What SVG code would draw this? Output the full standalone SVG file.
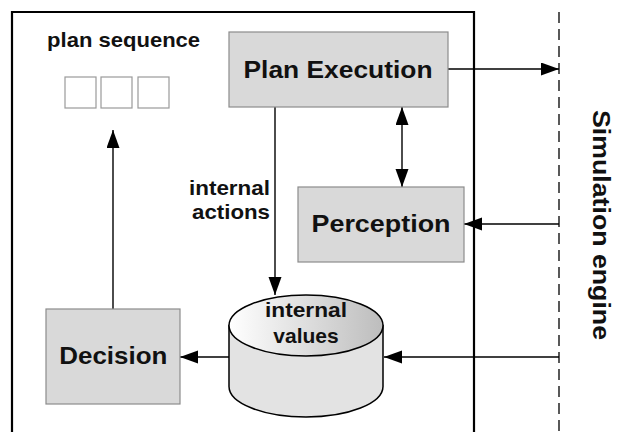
<svg xmlns="http://www.w3.org/2000/svg" width="618" height="432" viewBox="0 0 618 432">
<style>
.box{fill:#d9d9d9;stroke:#8c8c8c;stroke-width:1.2}
.sq{fill:#ffffff;stroke:#9a9a9a;stroke-width:1.2}
.big{font-family:"Liberation Sans",Arial,sans-serif;font-weight:bold;font-size:24px;fill:#111}
.small{font-family:"Liberation Sans",Arial,sans-serif;font-weight:bold;font-size:21px;fill:#111}
.conn{fill:none;stroke:#000;stroke-width:1.4}
</style>
<defs>
<marker id="ah" markerUnits="userSpaceOnUse" markerWidth="19" markerHeight="14" refX="18" refY="6.5" orient="auto-start-reverse">
<path d="M0,0 L18,6.5 L0,13 z" fill="#000"/>
</marker>
<linearGradient id="topg" x1="0" y1="0" x2="1" y2="0">
<stop offset="0" stop-color="#ffffff"/>
<stop offset="1" stop-color="#bdbdbd"/>
</linearGradient>
</defs>
<rect width="618" height="432" fill="#ffffff"/>
<path d="M12,440 V12 H474 V440" fill="none" stroke="#000" stroke-width="2.2"/>
<line x1="559" y1="12" x2="559" y2="432" stroke="#000" stroke-width="1.3" stroke-dasharray="11 6"/>
<g id="connectors">
<line class="conn" x1="448" y1="69" x2="559" y2="69" marker-end="url(#ah)"/>
<line class="conn" x1="402" y1="107" x2="402" y2="187" marker-start="url(#ah)" marker-end="url(#ah)"/>
<line class="conn" x1="559" y1="224" x2="464" y2="224" marker-end="url(#ah)"/>
<line class="conn" x1="275" y1="107" x2="275" y2="295" marker-end="url(#ah)"/>
<line class="conn" x1="113" y1="309" x2="113" y2="130" marker-end="url(#ah)"/>
<line class="conn" x1="229" y1="357" x2="180" y2="357" marker-end="url(#ah)"/>
<line class="conn" x1="559" y1="357" x2="384" y2="357" marker-end="url(#ah)"/>
</g>
<g id="plan-sequence">
<text class="small" x="123.6" y="47" text-anchor="middle" textLength="153" lengthAdjust="spacingAndGlyphs">plan sequence</text>
<rect class="sq" x="65" y="77" width="31" height="31"/>
<rect class="sq" x="101" y="77" width="31" height="31"/>
<rect class="sq" x="138" y="77" width="31" height="31"/>
</g>
<g id="plan-execution">
<rect class="box" x="229" y="32" width="219" height="75"/>
<text class="big" x="338" y="78" text-anchor="middle" textLength="189" lengthAdjust="spacingAndGlyphs">Plan Execution</text>
</g>
<g id="perception">
<rect class="box" x="298" y="187" width="166" height="75"/>
<text class="big" x="381" y="232" text-anchor="middle" textLength="139" lengthAdjust="spacingAndGlyphs">Perception</text>
</g>
<g id="decision">
<rect class="box" x="46" y="309" width="134" height="95"/>
<text class="big" x="113.3" y="364" text-anchor="middle" textLength="108" lengthAdjust="spacingAndGlyphs">Decision</text>
</g>
<g id="internal-actions-label">
<text class="small" x="270" y="195" text-anchor="end" textLength="81" lengthAdjust="spacingAndGlyphs">internal</text>
<text class="small" x="270" y="219" text-anchor="end" textLength="78" lengthAdjust="spacingAndGlyphs">actions</text>
</g>
<g id="internal-values">
<path d="M229,325.5 V386.5 A77,30.5 0 0,0 383,386.5 V325.5 Z" fill="#e3e3e3" stroke="#000" stroke-width="1.5"/>
<ellipse cx="306" cy="325.5" rx="77" ry="30.5" fill="url(#topg)" stroke="#000" stroke-width="1.5"/>
<text class="small" x="306" y="317" text-anchor="middle" textLength="82" lengthAdjust="spacingAndGlyphs">internal</text>
<text class="small" x="306" y="343" text-anchor="middle">values</text>
</g>
<g id="simulation-engine">
<text class="big" transform="translate(593,225) rotate(90)" x="0" y="0" text-anchor="middle" textLength="230" lengthAdjust="spacingAndGlyphs">Simulation engine</text>
</g>
</svg>
